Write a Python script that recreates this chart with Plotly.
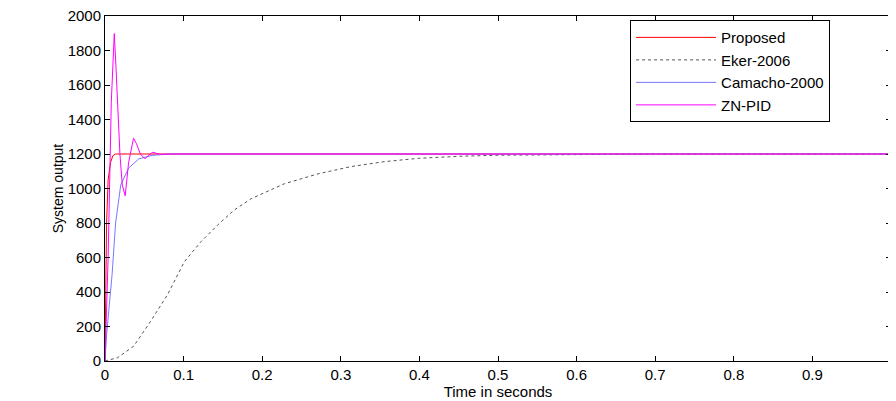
import plotly.graph_objects as go

prop_t = [0, 0.001, 0.002, 0.004, 0.007, 0.010, 0.0135, 1.0]
prop_y = [0, 500, 800, 1050, 1150, 1190, 1200, 1200]

eker_t = [0, 0.016, 0.0365, 0.058, 0.0795, 0.101, 0.122, 0.143, 0.164, 0.186,
          0.228, 0.271, 0.313, 0.356, 0.399, 0.452, 0.5, 0.6, 0.7, 1.0]
eker_y = [0, 19, 86, 230, 384, 576, 691, 787, 874, 941,
          1027, 1085, 1127, 1156, 1175, 1187, 1193, 1198, 1200, 1200]

cam_t = [0, 0.002, 0.005, 0.009, 0.0135, 0.020, 0.030, 0.043, 0.060, 0.080, 1.0]
cam_y = [0, 150, 300, 500, 800, 1020, 1118, 1172, 1192, 1200, 1200]

zn_t = [0, 0.004, 0.008, 0.0118, 0.014, 0.019, 0.022, 0.0257, 0.030, 0.0363,
        0.040, 0.045, 0.051, 0.056, 0.0608, 0.070, 0.080, 0.090, 1.0]
zn_y = [0, 600, 1500, 1898, 1700, 1200, 1020, 958, 1150, 1291,
        1260, 1200, 1172, 1195, 1210, 1198, 1199, 1200, 1200]

y_ticks = list(range(0, 2001, 200))

fig = go.Figure()
fig.add_trace(go.Scatter(x=prop_t, y=prop_y, mode="lines", name="Proposed",
                         line={"color": "red", "width": 1}))
fig.add_trace(go.Scatter(x=eker_t, y=eker_y, mode="lines", name="Eker-2006",
                         line={"color": "#555555", "width": 1, "dash": "dot"}))
fig.add_trace(go.Scatter(x=cam_t, y=cam_y, mode="lines", name="Camacho-2000",
                         line={"color": "#7777ff", "width": 1}))
fig.add_trace(go.Scatter(x=zn_t, y=zn_y, mode="lines", name="ZN-PID",
                         line={"color": "magenta", "width": 1}))

axis_style = dict(showline=True, linecolor="black", linewidth=1, mirror="ticks",
                  ticks="inside", ticklen=5, tickcolor="black", showgrid=False,
                  zeroline=False, automargin=False, ticklabeloverflow="allow",
                  tickfont={"size": 15, "color": "black"})

fig.update_layout(
    width=889, height=394,
    margin={"l": 97, "r": 6, "t": 8, "b": 41},
    plot_bgcolor="white", paper_bgcolor="white",
    font={"family": "Liberation Sans, Arial", "color": "black"},
    legend={"x": 0.668, "y": 0.988, "xanchor": "left", "yanchor": "top",
            "bordercolor": "black", "borderwidth": 1, "bgcolor": "white",
            "font": {"size": 15}, "tracegroupgap": 0, "itemwidth": 80,
            "traceorder": "normal"},
    showlegend=True,
)
fig.update_xaxes(range=[0, 1], tickvals=[i / 10 for i in range(10)],
                 ticktext=["0"] + [f"0.{i}" for i in range(1, 10)],
                 title={"text": "Time in seconds", "font": {"size": 15}, "standoff": 0},
                 **axis_style)
fig.update_yaxes(range=[0, 2000], tickvals=y_ticks,
                 ticktext=[str(v) for v in y_ticks],
                 title={"text": "System output", "font": {"size": 14}, "standoff": 0},
                 **axis_style)

fig.write_html("out.html")
